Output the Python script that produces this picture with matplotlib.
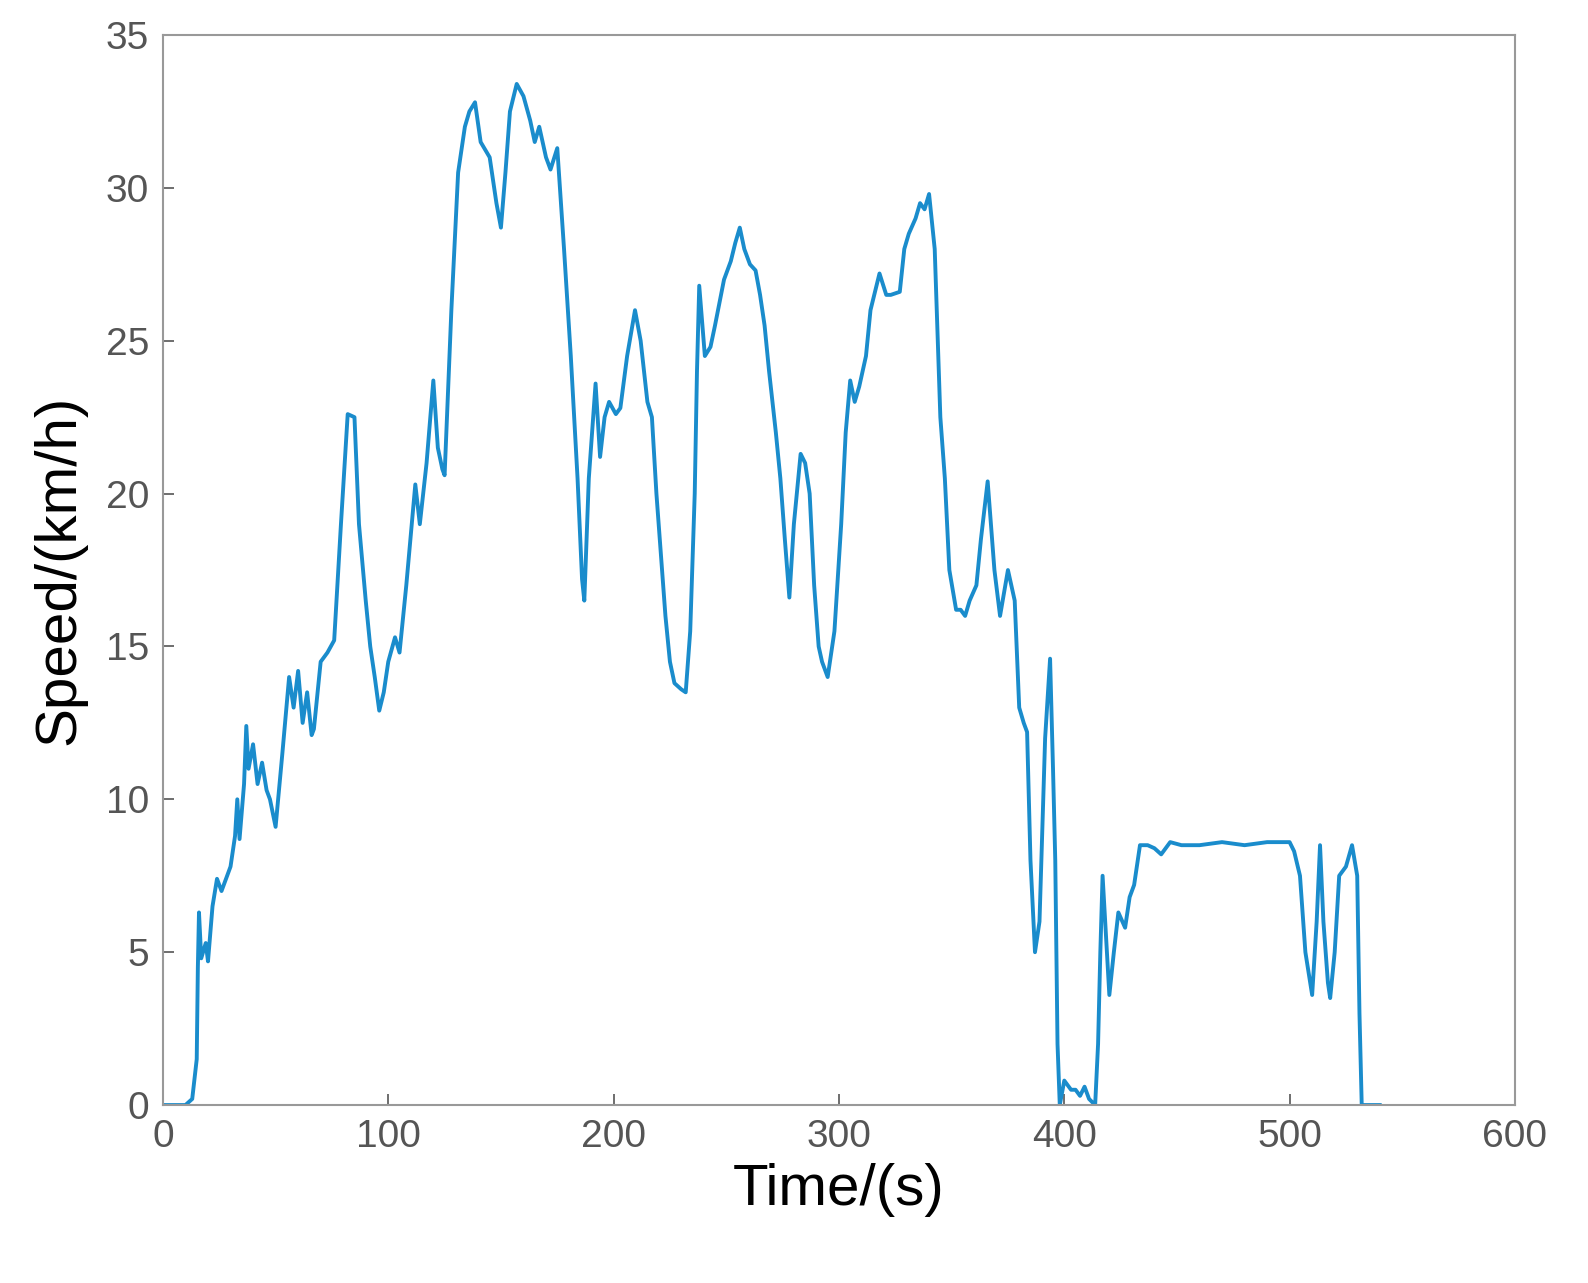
import matplotlib.pyplot as plt

plt.rcParams['font.family'] = ['Liberation Sans', 'DejaVu Sans']

# speed trace (s, km/h)
time_s = [0, 10, 13, 15, 15.5, 16, 17, 19, 20, 22, 24, 26, 28, 30, 32, 33, 34, 36, 37, 38, 40, 42, 44, 46, 47.5,
          50, 53, 56, 58, 60, 62, 64, 66, 67, 70, 73, 76, 79, 82, 85, 87, 90, 92, 94, 96, 98, 100, 103, 105,
          108, 112, 114, 117, 120, 122, 124, 125, 128, 131, 134, 136, 138.5, 141, 145, 148, 150, 152, 154, 157,
          160, 163, 165, 167, 170, 172, 175, 178, 181, 184, 186, 187, 189, 192, 194, 196, 198, 201, 203, 206,
          209.5, 212, 215, 217, 219, 221, 223, 225, 227, 230, 232, 234, 236, 237, 238, 240.5, 243, 245, 249,
          252, 254, 256, 258, 260.5, 263, 265, 267, 269, 272, 274, 276, 278, 280, 283, 285, 287, 289, 291,
          292.5, 295, 298, 301, 303, 305, 307, 309, 312, 314, 318, 321, 323, 327, 329, 331, 334, 336, 338, 340,
          342.5, 345, 347, 349, 352, 354, 356, 358, 361, 363, 366, 369, 371.5, 375, 378, 380, 382, 383.5,
          385, 387, 389, 391.5, 393.7, 395, 396, 397, 398, 400, 403, 405, 407, 409, 411, 413.7, 415, 416,
          417, 420, 422, 424, 427, 429, 431, 433.6, 437, 440, 443, 447, 452, 460, 470, 480, 490, 500, 502,
          504.6, 507, 510, 512, 513.5, 515, 517, 518, 520, 522, 525, 527.7, 530, 531, 532, 535, 540]
speed_kmh = [0, 0, 0.2, 1.5, 4.5, 6.3, 4.8, 5.3, 4.7, 6.5, 7.4, 7.0, 7.4, 7.8, 8.8, 10.0, 8.7, 10.5, 12.4, 11.0,
             11.8, 10.5, 11.2, 10.3, 10.0, 9.1, 11.5, 14.0, 13.0, 14.2, 12.5, 13.5, 12.1, 12.3, 14.5, 14.8, 15.2,
             19.0, 22.6, 22.5, 19.0, 16.5, 15.0, 14.0, 12.9, 13.5, 14.5, 15.3, 14.8, 17.0, 20.3, 19.0, 21.0,
             23.7, 21.5, 20.8, 20.6, 26.0, 30.5, 32.0, 32.5, 32.8, 31.5, 31.0, 29.5, 28.7, 30.5, 32.5, 33.4,
             33.0, 32.2, 31.5, 32.0, 31.0, 30.6, 31.3, 28.0, 24.5, 20.5, 17.2, 16.5, 20.5, 23.6, 21.2, 22.5,
             23.0, 22.6, 22.8, 24.5, 26.0, 25.0, 23.0, 22.5, 20.0, 18.0, 16.0, 14.5, 13.8, 13.6, 13.5, 15.5,
             20.0, 24.0, 26.8, 24.5, 24.8, 25.5, 27.0, 27.6, 28.2, 28.7, 28.0, 27.5, 27.3, 26.5, 25.5, 24.0,
             22.0, 20.5, 18.5, 16.6, 19.0, 21.3, 21.0, 20.0, 17.0, 15.0, 14.5, 14.0, 15.5, 19.0, 22.0, 23.7,
             23.0, 23.5, 24.5, 26.0, 27.2, 26.5, 26.5, 26.6, 28.0, 28.5, 29.0, 29.5, 29.3, 29.8, 28.0, 22.5,
             20.5, 17.5, 16.2, 16.2, 16.0, 16.5, 17.0, 18.5, 20.4, 17.5, 16.0, 17.5, 16.5, 13.0, 12.5, 12.2,
             8.0, 5.0, 6.0, 12.0, 14.6, 11.0, 8.0, 2.0, 0.0, 0.8, 0.5, 0.5, 0.3, 0.6, 0.2, 0.0, 2.0, 5.0, 7.5,
             3.6, 5.0, 6.3, 5.8, 6.8, 7.2, 8.5, 8.5, 8.4, 8.2, 8.6, 8.5, 8.5, 8.6, 8.5, 8.6, 8.6, 8.3, 7.5,
             5.0, 3.6, 6.0, 8.5, 6.0, 4.0, 3.5, 5.0, 7.5, 7.8, 8.5, 7.5, 3.0, 0.0, 0.0, 0.0]

fig = plt.figure(figsize=(15.88, 12.83), dpi=100)
ax = fig.add_axes([0.1026, 0.1387, 0.8514, 0.834])
ax.plot(time_s, speed_kmh, color='#1a8ccc', linewidth=2.8)

ax.set_xlim(0, 600)
ax.set_ylim(0, 35)
ax.set_xticks(range(0, 601, 100))
ax.set_yticks(range(0, 36, 5))
ax.tick_params(direction='in', length=8, width=1.2, colors='#555555', labelsize=28, pad=10)
for s in ax.spines.values():
    s.set_color('#999999')
    s.set_linewidth(1.5)
ax.set_xlabel('Time/(s)', fontsize=42, labelpad=6)
ax.set_ylabel('Speed/(km/h)', fontsize=42, labelpad=14)

fig.savefig('out.png', dpi=100)
